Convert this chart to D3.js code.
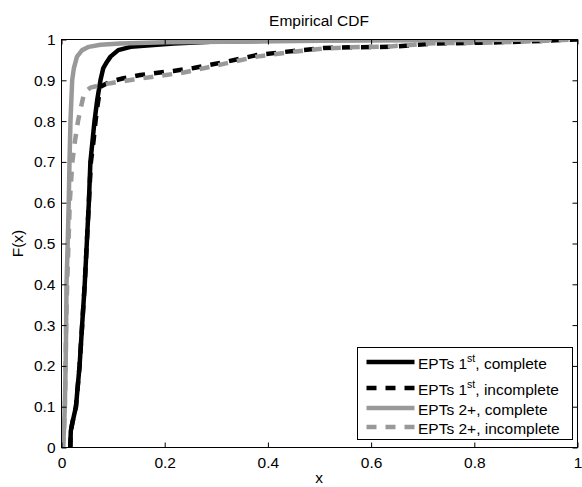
<!DOCTYPE html>
<html>
<head>
<meta charset="utf-8">
<script src="https://cdn.jsdelivr.net/npm/d3@7/dist/d3.min.js"></script>
<style>
  html, body { margin: 0; padding: 0; background: #fff; }
  svg { display: block; font-family: "Liberation Sans", Arial, Helvetica, sans-serif; }
</style>
</head>
<body>
<svg id="chart" width="582" height="487"></svg>
<script>
// Empirical CDFs of EPTs, first vs. later, complete vs. incomplete
const xTicks = [0, 0.2, 0.4, 0.6, 0.8, 1];
const xTickLabels = ["0", "0.2", "0.4", "0.6", "0.8", "1"];
const yTicks = [0, 0.1, 0.2, 0.3, 0.4, 0.5, 0.6, 0.7, 0.8, 0.9, 1];
const yTickLabels = ["0", "0.1", "0.2", "0.3", "0.4", "0.5", "0.6", "0.7", "0.8", "0.9", "1"];

// EPTs 1st, complete
const first_complete_x = [0.017, 0.018, 0.021, 0.028, 0.035, 0.040, 0.045, 0.049, 0.053, 0.056, 0.060, 0.064, 0.069, 0.0755, 0.081, 0.088, 0.095, 0.11, 0.134, 0.172, 0.217, 0.3, 0.45, 0.6];
const first_complete_F = [0, 0.04, 0.06, 0.1, 0.2, 0.3, 0.4, 0.5, 0.6, 0.7, 0.75, 0.8, 0.85, 0.9, 0.93, 0.945, 0.958, 0.974, 0.982, 0.986, 0.99, 0.995, 0.998, 1];

// EPTs 1st, incomplete
const first_incomplete_x = [0.017, 0.018, 0.021, 0.028, 0.035, 0.040, 0.045, 0.049, 0.053, 0.057, 0.062, 0.066, 0.070, 0.0755, 0.095, 0.12, 0.153, 0.217, 0.256, 0.321, 0.379, 0.45, 0.508, 0.56, 0.637, 0.721, 0.81, 0.90, 0.94, 0.97, 1.0];
const first_incomplete_F = [0, 0.04, 0.06, 0.1, 0.2, 0.3, 0.4, 0.5, 0.6, 0.7, 0.75, 0.8, 0.84, 0.884, 0.897, 0.905, 0.913, 0.923, 0.93, 0.946, 0.962, 0.972, 0.979, 0.981, 0.982, 0.99, 0.992, 0.995, 0.997, 0.999, 1];

// EPTs 2+, complete
const later_complete_x = [0.003, 0.005, 0.0064, 0.008, 0.009, 0.0097, 0.012, 0.014, 0.0155, 0.0174, 0.0207, 0.024, 0.030, 0.040, 0.053, 0.0755, 0.114, 0.2, 0.5, 0.8, 0.95];
const later_complete_F = [0, 0.05, 0.1, 0.2, 0.3, 0.4, 0.5, 0.6, 0.7, 0.8, 0.9, 0.93, 0.958, 0.974, 0.982, 0.987, 0.99, 0.993, 0.997, 0.999, 1];

// EPTs 2+, incomplete
const later_incomplete_x = [0.003, 0.005, 0.0065, 0.008, 0.009, 0.011, 0.0135, 0.016, 0.021, 0.026, 0.032, 0.037, 0.044, 0.056, 0.069, 0.095, 0.14, 0.185, 0.237, 0.321, 0.379, 0.45, 0.508, 0.56, 0.637, 0.721, 0.81, 0.90, 0.94, 0.97, 1.0];
const later_incomplete_F = [0, 0.05, 0.1, 0.2, 0.3, 0.4, 0.5, 0.6, 0.7, 0.75, 0.8, 0.83, 0.87, 0.882, 0.886, 0.893, 0.902, 0.91, 0.919, 0.942, 0.958, 0.97, 0.978, 0.981, 0.983, 0.991, 0.992, 0.995, 0.997, 0.999, 1];

const seriesNames = ["EPTs 1", "EPTs 1", "EPTs 2+, complete", "EPTs 2+, incomplete"];

const BLACK = "#000000";
const GRAY = "#999999";
const FONT = 15.5;

const series = [
  { xs: first_complete_x, fs: first_complete_F, color: BLACK, dash: null, label: { main: "EPTs 1", sup: "st", rest: ", complete" } },
  { xs: first_incomplete_x, fs: first_incomplete_F, color: BLACK, dash: "10,9", label: { main: "EPTs 1", sup: "st", rest: ", incomplete" } },
  { xs: later_complete_x, fs: later_complete_F, color: GRAY, dash: null, label: { main: "EPTs 2+, complete" } },
  { xs: later_incomplete_x, fs: later_incomplete_F, color: GRAY, dash: "10,9", label: { main: "EPTs 2+, incomplete" } }
];

const svg = d3.select("#chart");
const x = d3.scaleLinear().domain([0, 1]).range([61.5, 577.5]);
const y = d3.scaleLinear().domain([0, 1]).range([447.5, 39.5]);

// clip curves to the axes box
svg.append("defs").append("clipPath").attr("id", "plotClip")
  .append("rect")
  .attr("x", x(0)).attr("y", y(1))
  .attr("width", x(1) - x(0)).attr("height", y(0) - y(1));

// curves
const line = d3.line().x(d => x(d[0])).y(d => y(d[1]));
const curves = svg.append("g").attr("clip-path", "url(#plotClip)");
series.forEach(s => {
  const pts = s.xs.map((v, i) => [v, s.fs[i]]);
  curves.append("path")
    .datum(pts)
    .attr("d", line)
    .attr("fill", "none")
    .attr("stroke", s.color)
    .attr("stroke-width", 4.5)
    .attr("stroke-linejoin", "round")
    .attr("stroke-dasharray", s.dash);
});

// axes with inward ticks, boxed
function styleAxis(g) {
  g.select(".domain").remove();
  g.selectAll(".tick line").attr("stroke", "#000");
  g.selectAll(".tick text").attr("fill", "#000").style("font-size", FONT + "px");
}
svg.append("g").attr("transform", `translate(0,${y(0)})`)
  .call(d3.axisBottom(x).tickValues(xTicks).tickFormat((d, i) => xTickLabels[i]).tickSizeInner(-5).tickSizeOuter(0).tickPadding(9))
  .call(styleAxis);
svg.append("g").attr("transform", `translate(0,${y(1)})`)
  .call(d3.axisTop(x).tickValues(xTicks).tickFormat("").tickSizeInner(-5).tickSizeOuter(0))
  .call(styleAxis);
svg.append("g").attr("transform", `translate(${x(0)},0)`)
  .call(d3.axisLeft(y).tickValues(yTicks).tickFormat((d, i) => yTickLabels[i]).tickSizeInner(-5).tickSizeOuter(0).tickPadding(6))
  .call(styleAxis);
svg.append("g").attr("transform", `translate(${x(1)},0)`)
  .call(d3.axisRight(y).tickValues(yTicks).tickFormat("").tickSizeInner(-5).tickSizeOuter(0))
  .call(styleAxis);

svg.append("rect")
  .attr("x", x(0)).attr("y", y(1))
  .attr("width", x(1) - x(0)).attr("height", y(0) - y(1))
  .attr("fill", "none").attr("stroke", "#000").attr("stroke-width", 1);

// title and axis labels
svg.append("text").attr("x", 319).attr("y", 26).attr("text-anchor", "middle")
  .style("font-size", FONT + "px").text("Empirical CDF");
svg.append("text").attr("x", 319).attr("y", 483).attr("text-anchor", "middle")
  .style("font-size", FONT + "px").text("x");
svg.append("text").attr("transform", "translate(23,243.5) rotate(-90)").attr("text-anchor", "middle")
  .style("font-size", FONT + "px").text("F(x)");

// legend
const legend = svg.append("g");
legend.append("rect")
  .attr("x", 357.5).attr("y", 347.5).attr("width", 215).attr("height", 92)
  .attr("fill", "#fff").attr("stroke", "#000").attr("stroke-width", 1);
const rowY = [362, 388, 408, 427];
series.forEach((s, i) => {
  legend.append("line")
    .attr("x1", 366.5).attr("x2", 414.5)
    .attr("y1", rowY[i]).attr("y2", rowY[i])
    .attr("stroke", s.color).attr("stroke-width", 4.5)
    .attr("stroke-dasharray", s.dash);
  const t = legend.append("text").attr("x", 418).attr("y", rowY[i] + 7)
    .style("font-size", FONT + "px").attr("fill", "#000");
  t.append("tspan").text(s.label.main);
  if (s.label.sup) {
    t.append("tspan").attr("dy", -7).style("font-size", "10.5px").text(s.label.sup);
    t.append("tspan").attr("dy", 7).text(s.label.rest);
  }
});
</script>
</body>
</html>
